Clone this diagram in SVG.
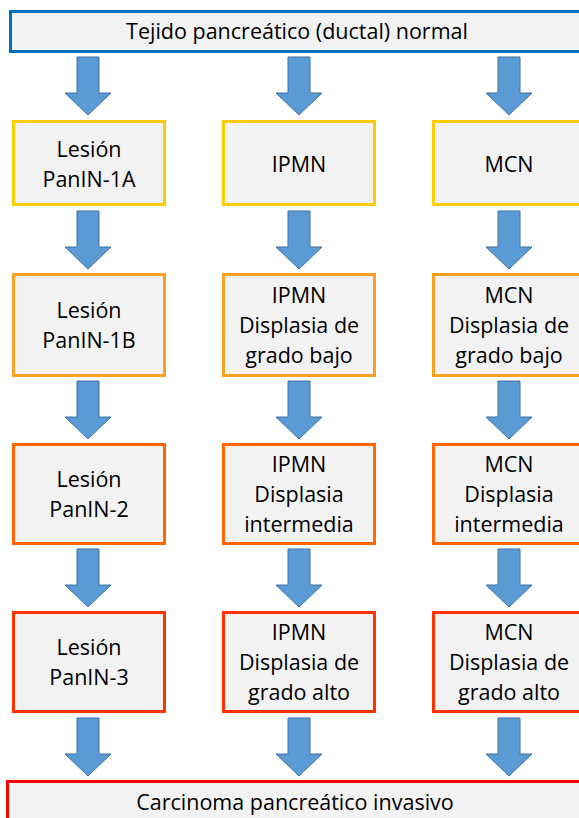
<svg xmlns="http://www.w3.org/2000/svg" width="579" height="818" viewBox="0 0 579 818">
<defs>
<style>
.box{fill:#F2F2F2;stroke-width:3}
.t{font-family:"Open Sans","Liberation Sans",Arial,sans-serif;font-size:21.5px;fill:#000;text-anchor:middle}
.arr{fill:#5B9BD5;stroke:#41719C;stroke-width:1}
</style>
<path id="a" class="arr" d="M-11,0 H11 V36 H23 L0,58 L-23,36 H-11 Z"/>
</defs>
<rect width="579" height="818" fill="#fff"/>
<g id="top"><rect class="box" x="10.5" y="11.5" width="600" height="40" stroke="#0070C0"/><text class="t" x="297" y="38.5">Tejido pancreático (ductal) normal</text></g>
<g id="connectors">
<use href="#a" x="88" y="57"/><use href="#a" x="299" y="57"/><use href="#a" x="509" y="57"/>
<use href="#a" x="88" y="211"/><use href="#a" x="299" y="211"/><use href="#a" x="509" y="211"/>
<use href="#a" x="88" y="381"/><use href="#a" x="299" y="381"/><use href="#a" x="509" y="381"/>
<use href="#a" x="88" y="549"/><use href="#a" x="299" y="549"/><use href="#a" x="509" y="549"/>
<use href="#a" x="88" y="718"/><use href="#a" x="299" y="718"/><use href="#a" x="509" y="718"/>
</g>
<g id="r1c1"><rect class="box" x="13.5" y="121.5" width="151" height="83" stroke="#FFCC00"/><text class="t" x="89" y="157">Lesión</text><text class="t" x="89" y="187">PanIN-1A</text></g>
<g id="r1c2"><rect class="box" x="223.5" y="121.5" width="151" height="83" stroke="#FFCC00"/><text class="t" x="299" y="172">IPMN</text></g>
<g id="r1c3"><rect class="box" x="433.5" y="121.5" width="151" height="83" stroke="#FFCC00"/><text class="t" x="509" y="172">MCN</text></g>
<g id="r2c1"><rect class="box" x="13.5" y="274.5" width="151" height="101" stroke="#FFA020"/><text class="t" x="89" y="318">Lesión</text><text class="t" x="89" y="348">PanIN-1B</text></g>
<g id="r2c2"><rect class="box" x="223.5" y="274.5" width="151" height="101" stroke="#FFA020"/><text class="t" x="299" y="303">IPMN</text><text class="t" x="299" y="333">Displasia de</text><text class="t" x="299" y="363">grado bajo</text></g>
<g id="r2c3"><rect class="box" x="433.5" y="274.5" width="151" height="101" stroke="#FFA020"/><text class="t" x="509" y="303">MCN</text><text class="t" x="509" y="333">Displasia de</text><text class="t" x="509" y="363">grado bajo</text></g>
<g id="r3c1"><rect class="box" x="13.5" y="444.5" width="151" height="99" stroke="#FF6600"/><text class="t" x="89" y="487">Lesión</text><text class="t" x="89" y="517">PanIN-2</text></g>
<g id="r3c2"><rect class="box" x="223.5" y="444.5" width="151" height="99" stroke="#FF6600"/><text class="t" x="299" y="472">IPMN</text><text class="t" x="299" y="502">Displasia</text><text class="t" x="299" y="532">intermedia</text></g>
<g id="r3c3"><rect class="box" x="433.5" y="444.5" width="151" height="99" stroke="#FF6600"/><text class="t" x="509" y="472">MCN</text><text class="t" x="509" y="502">Displasia</text><text class="t" x="509" y="532">intermedia</text></g>
<g id="r4c1"><rect class="box" x="13.5" y="612.5" width="151" height="99" stroke="#FF3300"/><text class="t" x="89" y="655">Lesión</text><text class="t" x="89" y="685">PanIN-3</text></g>
<g id="r4c2"><rect class="box" x="223.5" y="612.5" width="151" height="99" stroke="#FF3300"/><text class="t" x="299" y="640">IPMN</text><text class="t" x="299" y="670">Displasia de</text><text class="t" x="299" y="700">grado alto</text></g>
<g id="r4c3"><rect class="box" x="433.5" y="612.5" width="151" height="99" stroke="#FF3300"/><text class="t" x="509" y="640">MCN</text><text class="t" x="509" y="670">Displasia de</text><text class="t" x="509" y="700">grado alto</text></g>
<g id="bottom"><rect class="box" x="7.5" y="781.5" width="600" height="60" stroke="#FF0000"/><text class="t" x="295" y="810">Carcinoma pancreático invasivo</text></g>
</svg>
